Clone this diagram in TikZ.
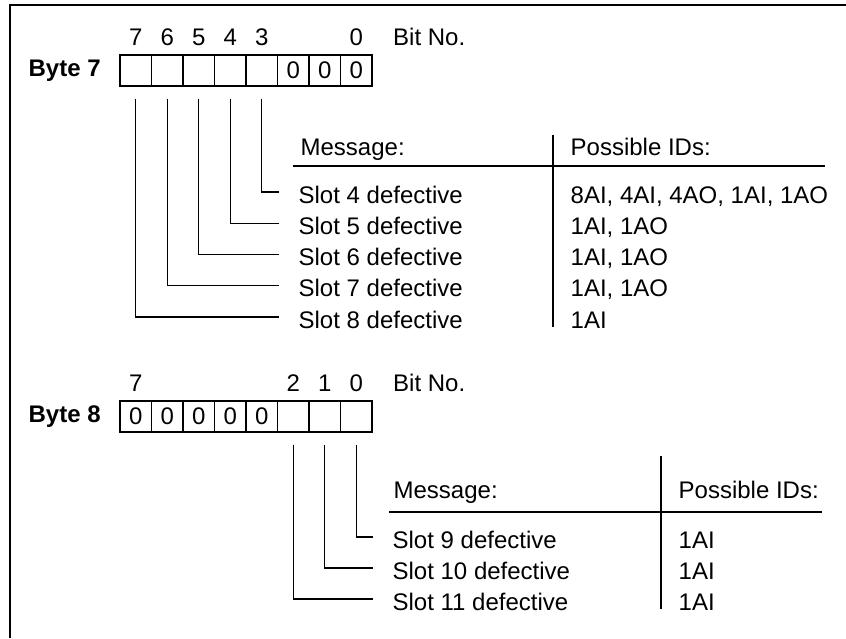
\documentclass[tikz,border=0pt]{standalone}
\usepackage{fontspec}
\setmainfont{Liberation Sans}
\usetikzlibrary{positioning}
\begin{document}
\begin{tikzpicture}[x=0.5pt, y=-0.5pt, line width=0.65pt, font=\fontsize{12}{14}\selectfont]
	\tikzset{
	    cell/.style= {draw, minimum width=15.75pt, minimum height=15.5pt, inner sep=0pt},
	    bitno/.style= {inner sep=0pt},
	    bytelbl/.style= {inner sep=0pt, font=\fontsize{12}{14}\selectfont\bfseries},
	    slot/.style= {anchor=base west, inner sep=0pt, text height=11pt, text depth=0pt},
	    ids/.style= {anchor=base west, inner sep=0pt},
	    wire/.style= {shorten <=6pt, shorten >=9.5pt},
	}
	\useasboundingbox (0,0) rectangle (846,638);
	\draw[line width=1pt] (846,5) -- (10,5) -- (10,638);
	
	\foreach \b/\v [count=\i from 0] in {7/,6/,5/,4/,3/,2/0,1/0,0/0}
	    \node[cell] (r7b\b) at ({135.75+31.5*\i}, 70.5) {\v};
	\foreach \b in {7,6,5,4,3,0}
	    \node[bitno, above=4pt of r7b\b] (r7n\b) {\b};
	\node[bitno, right=14.5pt of r7n0] (r7bit) {Bit No.};
	\node[bytelbl, left=9pt of r7b7] (byte7) {Byte 7};
	
	\node[ids] (r7msg) at (300,155) {Message:};
	\node[ids] (r7id) at (570,155) {Possible IDs:};
	\draw (293,166) -- (825,166);
	\draw (553,135) -- (553,327);
	\foreach \b/\s/\t [count=\i from 0] in {3/4/{8AI, 4AI, 4AO, 1AI, 1AO}, 4/5/{1AI, 1AO}, 5/6/{1AI, 1AO}, 6/7/{1AI, 1AO}, 7/8/1AI} {
	    \node[slot] (r7s\b) at (298, {203+31.25*\i}) {Slot \s{} defective};
	    \node[ids] (r7t\b) at (570, {203+31.25*\i}) {\t};
	    \draw[wire] (r7b\b) |- (r7s\b.west);
	}
	
	\foreach \b/\v [count=\i from 0] in {7/0,6/0,5/0,4/0,3/0,2/,1/,0/}
	    \node[cell] (r8b\b) at ({135.75+31.5*\i}, 416.5) {\v};
	\foreach \b in {7,2,1,0}
	    \node[bitno, above=4pt of r8b\b] (r8n\b) {\b};
	\node[bitno, right=14.5pt of r8n0] (r8bit) {Bit No.};
	\node[bytelbl, left=9pt of r8b7] (byte8) {Byte 8};
	
	\node[ids] (r8msg) at (393,498.5) {Message:};
	\node[ids] (r8id) at (678,498.5) {Possible IDs:};
	\draw (389,512) -- (822,512);
	\draw (661,456) -- (661,609);
	\foreach \b/\s [count=\i from 0] in {0/9, 1/10, 2/11} {
	    \node[slot] (r8s\b) at (392, {548+31*\i}) {Slot \s{} defective};
	    \node[ids] (r8t\b) at (678, {548+31*\i}) {1AI};
	    \draw[wire] (r8b\b) |- (r8s\b.west);
	}
\end{tikzpicture}
\end{document}
